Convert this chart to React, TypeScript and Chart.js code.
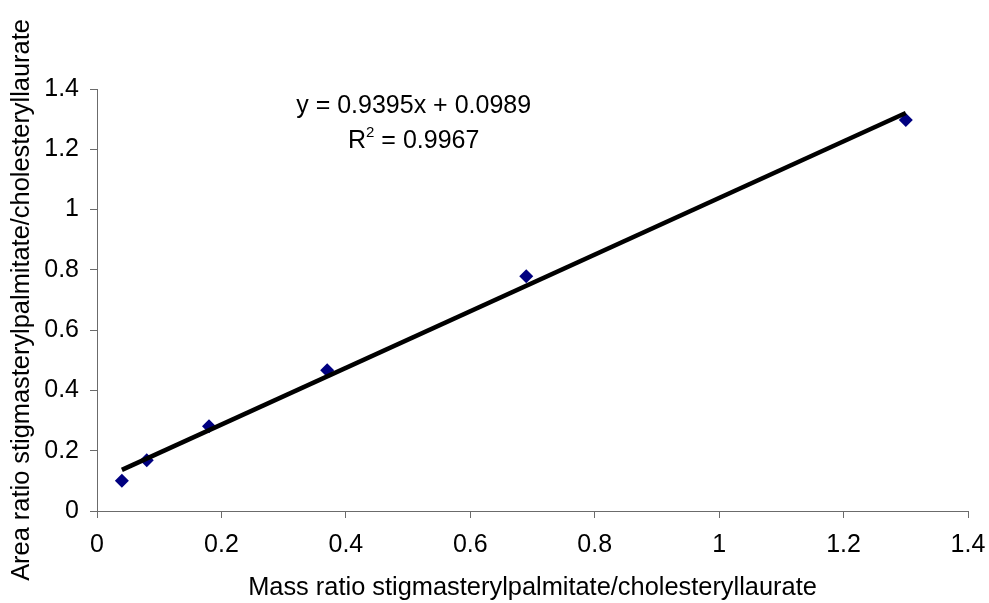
import React, { useEffect, useRef } from "react";
import { Chart, registerables } from "chart.js";

Chart.register(...registerables);

// Data
const massRatio: number[] = [0.04, 0.08, 0.18, 0.37, 0.69, 1.3];
const areaRatio: number[] = [0.1, 0.168, 0.281, 0.467, 0.779, 1.297];

// Trendline as printed on the chart
const slope = 0.9395;
const intercept = 0.0989;
const rSquared = "0.9967";
const trendX: number[] = [0.04, 1.3];

const xTickLabels: string[] = ["0", "0.2", "0.4", "0.6", "0.8", "1", "1.2", "1.4"];
const yTickLabels: string[] = ["0", "0.2", "0.4", "0.6", "0.8", "1", "1.2", "1.4"];

const xTitle = "Mass ratio stigmasterylpalmitate/cholesteryllaurate";
const yTitle = "Area ratio stigmasterylpalmitate/cholesteryllaurate";

const FONT = "'Liberation Sans', Arial, sans-serif";

const equationPlugin = {
  id: "equationText",
  afterDatasetsDraw(chart: any) {
    const { ctx, scales } = chart;
    const xs = scales.x;
    const ys = scales.y;
    const cx = xs.getPixelForValue(0.509);
    const y1 = ys.getPixelForValue(1.32);
    const y2 = ys.getPixelForValue(1.204);
    ctx.save();
    ctx.fillStyle = "#000";
    ctx.textBaseline = "alphabetic";
    ctx.font = `25px ${FONT}`;
    ctx.textAlign = "center";
    const line1 = `y = ${slope.toFixed(4)}x + ${intercept.toFixed(4)}`;
    ctx.fillText(line1, cx, y1);
    // R² line
    ctx.textAlign = "left";
    const bigFont = `25px ${FONT}`;
    const supFont = `15px ${FONT}`;
    ctx.font = bigFont;
    const wR = ctx.measureText("R").width;
    const rest = ` = ${rSquared}`;
    const wRest = ctx.measureText(rest).width;
    ctx.font = supFont;
    const wSup = ctx.measureText("2").width;
    const total = wR + wSup + wRest;
    let x = cx - total / 2;
    ctx.font = bigFont;
    ctx.fillText("R", x, y2);
    x += wR;
    ctx.font = supFont;
    ctx.fillText("2", x, y2 - 11);
    x += wSup;
    ctx.font = bigFont;
    ctx.fillText(rest, x, y2);
    ctx.restore();
  },
};

export default function App() {
  const canvasRef = useRef<HTMLCanvasElement | null>(null);

  useEffect(() => {
    document.body.style.margin = "0";
    const canvas = canvasRef.current;
    if (!canvas) return;
    Chart.defaults.color = "#000";
    const axisColor = "#6b6b6b";
    const chart = new Chart(canvas, {
      type: "scatter",
      data: {
        datasets: [
          {
            type: "line",
            label: "Trend",
            data: trendX.map((x) => ({ x, y: slope * x + intercept })),
            borderColor: "#000",
            borderWidth: 4.5,
            pointRadius: 0,
            fill: false,
            order: 0,
          },
          {
            type: "scatter",
            label: "Data",
            data: massRatio.map((x, i) => ({ x, y: areaRatio[i] })),
            pointStyle: "rectRot",
            pointRadius: 7,
            backgroundColor: "#000080",
            borderColor: "#000080",
            borderWidth: 0,
            order: 1,
          },
        ],
      },
      options: {
        responsive: false,
        animation: false,
        devicePixelRatio: 1,
        layout: { padding: { top: 89, right: 21, bottom: 0, left: 0 } },
        plugins: {
          legend: { display: false },
          tooltip: { enabled: false },
        },
        scales: {
          x: {
            type: "linear",
            min: 0,
            max: 1.4,
            afterFit: (scale: any) => {
              scale.height = 92;
              scale.paddingLeft = 0;
              scale.paddingRight = 0;
            },
            border: { display: true, color: axisColor, width: 1 },
            grid: {
              drawOnChartArea: false,
              drawTicks: true,
              tickLength: 7,
              color: axisColor,
            },
            ticks: {
              stepSize: 0.2,
              padding: 12,
              font: { family: FONT, size: 25 },
              color: "#000",
              maxRotation: 0,
              callback: (_v: any, i: number) => xTickLabels[i],
            },
            title: {
              display: true,
              text: xTitle,
              font: { family: FONT, size: 25.4 },
              color: "#000",
              padding: { top: 0, bottom: 0 },
            },
          },
          y: {
            type: "linear",
            min: 0,
            max: 1.4,
            afterFit: (scale: any) => {
              scale.width = 97;
              scale.paddingTop = 0;
              scale.paddingBottom = 0;
            },
            border: { display: true, color: axisColor, width: 1 },
            grid: {
              drawOnChartArea: false,
              drawTicks: true,
              tickLength: 7,
              color: axisColor,
            },
            ticks: {
              stepSize: 0.2,
              padding: 11,
              font: { family: FONT, size: 25 },
              color: "#000",
              callback: (_v: any, i: number) => yTickLabels[i],
            },
            title: {
              display: true,
              text: yTitle,
              font: { family: FONT, size: 25.4 },
              color: "#000",
              padding: { top: 7, bottom: 0 },
            },
          },
        },
      },
      plugins: [equationPlugin],
    } as any);
    return () => chart.destroy();
  }, []);

  return (
    <div style={{ width: 989, height: 603, background: "#fff" }}>
      <canvas ref={canvasRef} width={989} height={603} />
    </div>
  );
}
